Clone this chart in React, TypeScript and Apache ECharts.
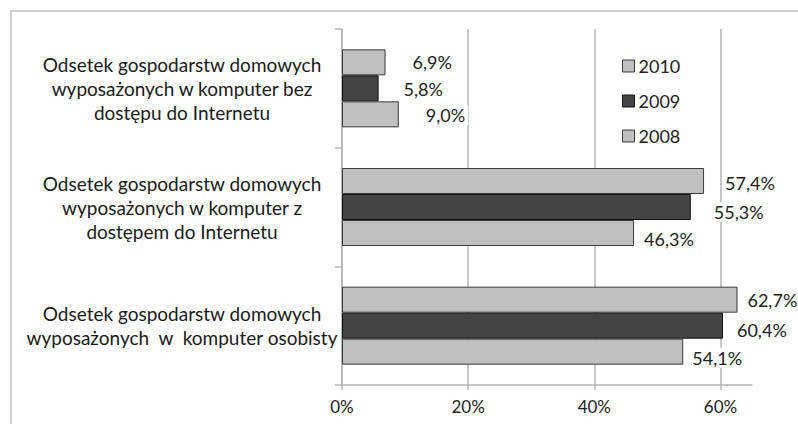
import React, { useEffect, useRef } from "react";
import * as echarts from "echarts";

// Categories listed bottom → top (ECharts y category axis starts at the bottom)
const categories = [
  "Odsetek gospodarstw domowych\nwyposażonych  w  komputer osobisty",
  "Odsetek gospodarstw domowych\nwyposażonych w komputer z\ndostępem do Internetu",
  "Odsetek gospodarstw domowych\nwyposażonych w komputer bez\ndostępu do Internetu",
];
const seriesNames = ["2010", "2009", "2008"];
const values2010 = [62.7, 57.4, 6.9];
const values2009 = [60.4, 55.3, 5.8];
const values2008 = [54.1, 46.3, 9.0];
const xTicks = [0, 20, 40, 60];
const legendOrder = ["2010", "2009", "2008"];

// label layout nudges (styling only): [distance, dy] per category
const nudge2010 = [[7, 0], [18, 2], [24, 0]];
const nudge2009 = [[11, 4], [20, 5], [22, 1]];
const nudge2008 = [[6, 6], [7, 6], [24, 1]];

const FONT = "Lato";
const LIGHT = "#c0c0c0";
const DARK = "#444444";
const GRID = "#b4b4b4";

const fmt = (v: number) => v.toFixed(1).replace(".", ",") + "%";

function makeSeries(name: string, values: number[], color: string, border: string, nudges: number[][]) {
  return {
    name,
    type: "bar",
    barWidth: 26,
    barGap: "0%",
    itemStyle: { color, borderColor: border, borderWidth: 1 },
    data: values.map((v, i) => ({
      value: v,
      label: {
        distance: nudges[i][0],
        offset: [0, nudges[i][1]],
      },
    })),
    label: {
      show: true,
      position: "right",
      formatter: (p: any) => fmt(p.value),
      fontFamily: FONT,
      fontSize: 18,
      color: "#222",
      backgroundColor: "#fff",
      padding: [1, 3],
    },
  };
}

export default function App() {
  const ref = useRef<HTMLDivElement>(null);
  useEffect(() => {
    if (!ref.current) return;
    const chart = echarts.init(ref.current, null, { renderer: "svg" });
    chart.setOption({
      animation: false,
      backgroundColor: "#fff",
      textStyle: { fontFamily: FONT },
      grid: { left: 342, top: 29, width: 410, height: 356, containLabel: false },
      legend: {
        data: legendOrder,
        orient: "vertical",
        left: 622,
        top: 57,
        padding: 0,
        itemWidth: 12,
        itemHeight: 12,
        itemGap: 17,
        itemStyle: { borderWidth: 1 },
        icon: "rect",
        textStyle: { fontFamily: FONT, fontSize: 18, color: "#222", lineHeight: 18, padding: [0, 0, 0, -1] },
      },
      xAxis: {
        type: "value",
        min: 0,
        max: 65,
        interval: 20,
        axisLine: { show: true, lineStyle: { color: GRID, width: 1.5 } },
        axisTick: { show: true, length: 5, customValues: xTicks, lineStyle: { color: GRID, width: 1.5 } },
        axisLabel: {
          customValues: xTicks,
          formatter: (v: number) => v + "%",
          fontFamily: FONT,
          fontSize: 17,
          color: "#222",
          margin: 13,
        },
        splitLine: {
          show: true,
          lineStyle: { color: [GRID, GRID, GRID, GRID, "rgba(0,0,0,0)"], width: 1.5 },
        },
      },
      yAxis: {
        type: "category",
        data: categories,
        axisLine: { show: true, lineStyle: { color: GRID, width: 1.5 } },
        axisTick: { show: true, length: 7, lineStyle: { color: GRID, width: 1.5 } },
        axisLabel: {
          align: "center",
          margin: 160,
          fontFamily: FONT,
          fontSize: 19,
          lineHeight: 24,
          color: "#1a1a1a",
        },
      },
      graphic: [
        {
          type: "polyline",
          shape: { points: [[11, 424], [11, 11], [798, 11]] },
          style: { stroke: "#c0c0c0", lineWidth: 1.5, fill: null },
          silent: true,
        },
      ],
      series: [
        makeSeries(seriesNames[0], values2010, LIGHT, "#3a3a3a", nudge2010),
        makeSeries(seriesNames[1], values2009, DARK, "#111", nudge2009),
        makeSeries(seriesNames[2], values2008, LIGHT, "#3a3a3a", nudge2008),
      ],
    });
    return () => chart.dispose();
  }, []);
  return (
    <div
      ref={ref}
      style={{ position: "fixed", left: 0, top: 0, width: 798, height: 424 }}
    />
  );
}
